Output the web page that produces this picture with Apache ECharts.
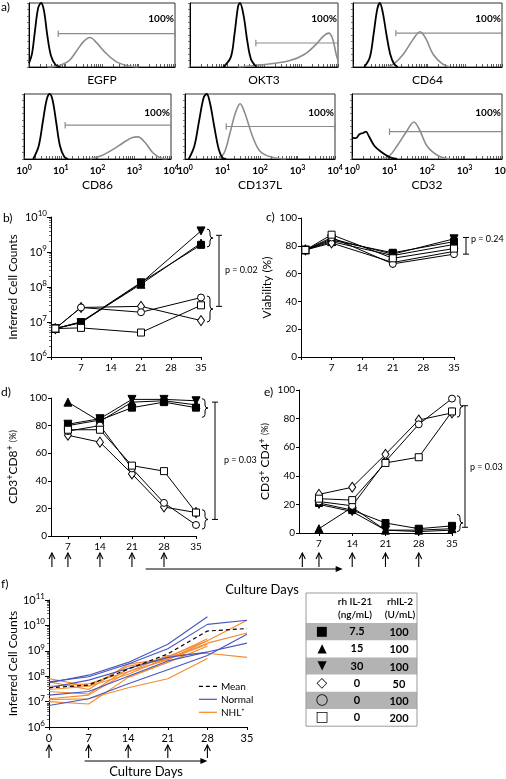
<!DOCTYPE html>
<html>
<head>
<meta charset="utf-8">
<script src="https://cdn.jsdelivr.net/npm/echarts@6.0.0/dist/echarts.min.js"></script>
<style>html,body{margin:0;padding:0;background:#fff;}#chart{width:506px;height:779px;}</style>
</head>
<body>
<div id="chart"></div>
<script>
// ================= DATA =================
// panel a: flow histograms, points are [log10 intensity, relative count]
const histMarkers = ['EGFP', 'OKT3', 'CD64', 'CD86', 'CD137L', 'CD32'];
const histGateLabel = ['100%', '100%', '100%', '100%', '100%', '100%'];
const histTickLabels = ['0', '1', '2', '3', '4'];
const egfpControl = [[0,0.06],[0.08,0.2],[0.16,0.55],[0.25,0.92],[0.33,1.0],[0.41,0.88],[0.5,0.5],[0.6,0.18],[0.72,0.04],[0.85,0]];
const egfpStained = [[0.5,0],[0.8,0.02],[1.1,0.1],[1.3,0.25],[1.5,0.4],[1.67,0.46],[1.85,0.38],[2.1,0.22],[2.4,0.08],[2.7,0.02],[3.0,0]];
const okt3Control = [[0.9,0],[1.1,0.15],[1.2,0.5],[1.3,0.95],[1.35,1.0],[1.45,0.8],[1.55,0.4],[1.65,0.12],[1.8,0]];
const okt3Stained = [[1.3,0],[1.7,0.02],[2.2,0.05],[2.7,0.1],[3.1,0.2],[3.4,0.35],[3.6,0.48],[3.75,0.53],[3.85,0.45],[3.95,0.2],[4.0,0.1]];
const cd64Control = [[0.3,0],[0.45,0.15],[0.55,0.5],[0.65,0.9],[0.72,1.0],[0.8,0.85],[0.9,0.5],[1.0,0.2],[1.1,0.05],[1.2,0]];
const cd64Stained = [[0.9,0],[1.1,0.05],[1.35,0.2],[1.6,0.42],[1.8,0.55],[1.95,0.45],[2.15,0.2],[2.4,0.05],[2.6,0]];
const cd86Control = [[0.25,0],[0.4,0.2],[0.52,0.6],[0.62,0.92],[0.7,1.0],[0.78,0.9],[0.88,0.55],[0.98,0.2],[1.1,0.03],[1.2,0]];
const cd86Stained = [[1.8,0],[2.1,0.05],[2.4,0.14],[2.7,0.25],[2.95,0.33],[3.1,0.34],[3.3,0.25],[3.5,0.1],[3.7,0.02],[3.9,0]];
const cd137lControl = [[0.1,0],[0.25,0.2],[0.38,0.6],[0.5,0.95],[0.58,1.0],[0.67,0.85],[0.78,0.5],[0.9,0.15],[1.0,0.02],[1.1,0]];
const cd137lStained = [[0.9,0],[1.05,0.1],[1.2,0.4],[1.35,0.72],[1.47,0.85],[1.6,0.7],[1.8,0.35],[2.0,0.12],[2.3,0.03],[2.7,0]];
const cd32Control = [[0,0.33],[0.1,0.32],[0.2,0.38],[0.3,0.4],[0.37,0.42],[0.45,0.35],[0.6,0.2],[0.8,0.1],[1.0,0.03],[1.2,0]];
const cd32Stained = [[0.8,0],[1.0,0.05],[1.2,0.2],[1.45,0.42],[1.65,0.57],[1.8,0.45],[2.0,0.2],[2.3,0.05],[2.6,0]];
const histGates = [[0.8,0.52],[1.78,0.375],[1.15,0.53],[1.12,0.52],[1.1,0.5],[1.0,0.42]];

// conditions (rhIL-21 ng/mL, rhIL-2 U/mL)
const tableSymbols = ['■', '▲', '▼', '◇', '○', '□'];
const tableIL21 = ['7.5', '15', '30', '0', '0', '0'];
const tableIL2 = ['100', '100', '100', '50', '100', '200'];

// panel b: inferred cell counts
const daysB = [1, 7, 21, 35];
const bCounts = [
  [6.5e6, 1.0e7, 1.35e8, 1.6e9],
  [6.5e6, 1.0e7, 1.2e8, 1.8e9],
  [6.5e6, 9.5e6, 1.3e8, 4.0e9],
  [6.5e6, 2.6e7, 2.8e7, 1.1e7],
  [6.5e6, 2.6e7, 1.9e7, 5.0e7],
  [6.5e6, 6.8e6, 5.0e6, 3.0e7]
];
// panel c: viability (%)
const daysC = [1, 7, 21, 35];
const cViability = [
  [77, 84, 75, 83],
  [77, 83, 73, 81],
  [77, 85, 74, 85],
  [77, 82, 68, 76],
  [77, 86, 67, 74],
  [77, 88, 71, 78]
];
// panels d, e
const daysDE = [7, 14, 21, 28, 35];
const dCD8 = [
  [80, 84, 93, 97, 93],
  [97, 83, 97, 98, 95],
  [81, 85, 99, 99, 98],
  [73, 68, 45, 21, 17],
  [76, 80, 49, 24, 8],
  [77, 77, 51, 47, 17]
];
const eCD4 = [
  [21, 16, 7, 3, 5],
  [3, 18, 2, 2, 3],
  [20, 15, 2, 1, 2],
  [27, 32, 55, 79, 84],
  [22, 19, 50, 76, 94],
  [24, 23, 49, 53, 85]
];
const deTickDays = [7, 14, 21, 28, 35];
const stimDaysDE = [3.5, 7, 14, 21, 28];

// panel f
const daysF = [0, 7, 14, 21, 28, 35];
const stimDaysF = [0, 7, 14, 21, 28];
const fMean = [3.5e7, 4.5e7, 1.9e8, 7.5e8, 6.0e9, 7.5e9];
const fNormal = [
  [5.5e7, 1.1e8, 3.5e8, 1.8e9, 2.2e10, null],
  [6.0e7, 9.5e7, 3.0e8, 1.2e9, 1.1e10, 1.6e10],
  [3.5e7, 7.0e7, 2.0e8, 5.5e8, 9.0e8, 2.0e9],
  [1.8e7, 2.5e7, 1.0e8, 4.0e8, 9.0e8, null],
  [7.0e6, 1.3e7, 5.0e7, 1.8e8, 6.5e8, 4.5e9]
];
const fNHL = [
  [8.0e7, 4.0e7, 2.5e8, 4.5e8, 2.5e9, 1.6e10],
  [6.0e7, 3.0e7, 3.0e8, 5.0e8, 2.0e9, 5.0e9],
  [4.0e7, 5.0e7, 1.5e8, 6.5e8, 8.0e8, 5.5e8],
  [3.0e7, 4.0e7, 1.2e8, 5.5e8, 3.0e9, null],
  [2.5e7, 2.0e7, 2.0e8, 6.0e8, 2.5e9, null],
  [1.3e7, 1.8e7, 1.5e8, 4.5e8, 1.8e9, null],
  [1.0e7, 8.0e6, 9.0e7, 3.5e8, 1.5e9, null],
  [1.2e7, 1.3e7, 3.5e7, 8.0e7, 5.0e8, null]
];
const fLegend = ['Mean', 'Normal', 'NHL⁺'];

// ================= STYLE / LAYOUT =================
const FONT = 'Lato, "Open Sans", "Noto Sans", sans-serif';
const BLUE = '#4656c0', ORANGE = '#f58a2c', GREY = '#8c8c8c';
const MARK = [
  {symbol: 'rect', fill: '#000', size: 7, rot: 0},
  {symbol: 'triangle', fill: '#000', size: 8, rot: 0},
  {symbol: 'triangle', fill: '#000', size: 8, rot: 180},
  {symbol: 'diamond', fill: '#fff', size: [7, 10], rot: 0},
  {symbol: 'circle', fill: '#fff', size: 7, rot: 0},
  {symbol: 'rect', fill: '#fff', size: 7, rot: 0}
];
const histControls = [egfpControl, okt3Control, cd64Control, cd86Control, cd137lControl, cd32Control];
const histStained = [egfpStained, okt3Stained, cd64Stained, cd86Stained, cd137lStained, cd32Stained];

const histBoxes = [
  {left: 29, top: 3, width: 146, height: 64},
  {left: 190, top: 3, width: 148, height: 64},
  {left: 353, top: 3, width: 149, height: 64},
  {left: 24, top: 94, width: 147, height: 65},
  {left: 185, top: 94, width: 150, height: 65},
  {left: 352, top: 94, width: 150, height: 65}
];
const grids = histBoxes.map(g => Object.assign({show: true, borderColor: '#333', borderWidth: 1, backgroundColor: 'transparent'}, g));
grids.push({left: 51, top: 217, width: 150, height: 140});   // b  (6)
grids.push({left: 301, top: 218, width: 153, height: 139});  // c  (7)
grids.push({left: 51, top: 398, width: 145, height: 138});   // d  (8)
grids.push({left: 299, top: 390, width: 153, height: 143});  // e  (9)
grids.push({left: 49, top: 600, width: 198, height: 127});   // f  (10)
grids.forEach(g => { g.outerBoundsMode = 'none'; g.containLabel = false; });

const supRich = (fs) => ({
  b: {fontSize: fs, fontFamily: FONT, color: '#000'},
  s: {fontSize: Math.round(fs * 0.7), fontFamily: FONT, color: '#000', padding: [0, 0, Math.round(fs * 0.6), 0]}
});
const supRichBold = (fs) => ({
  b: {fontSize: fs, fontFamily: FONT, color: '#000', fontWeight: 'bold'},
  s: {fontSize: Math.round(fs * 0.7), fontFamily: FONT, color: '#000', fontWeight: 'bold', padding: [0, 0, Math.round(fs * 0.6), 0]}
});
const logFmt = v => '{b|10}{s|' + Math.round(Math.log10(v)) + '}';

const logTicks = [];
for (let d = 0; d < 4; d++) for (let k = 1; k <= 9; k++) logTicks.push(d + Math.log10(k));
logTicks.push(4);

const axisLineBlack = {show: true, lineStyle: {color: '#000', width: 1}};
const xAxes = [], yAxes = [];
for (let i = 0; i < 6; i++) {
  xAxes.push({
    gridIndex: i, type: 'value', min: 0, max: 4,
    axisLine: axisLineBlack,
    axisTick: {show: true, inside: true, length: 3, customValues: logTicks, lineStyle: {color: '#333', width: 0.8}},
    axisLabel: {show: i >= 3, customValues: histTickLabels.map(Number), margin: 5,
      formatter: v => '{b|10}{s|' + v + '}', rich: supRichBold(10)},
    splitLine: {show: false},
    name: histMarkers[i], nameLocation: 'middle', nameGap: i < 3 ? 7 : 20,
    nameTextStyle: {fontSize: 12, fontFamily: FONT, color: '#000', verticalAlign: 'top'}
  });
  yAxes.push({
    gridIndex: i, type: 'value', min: 0, max: 1, interval: 0.1,
    axisLine: axisLineBlack,
    axisTick: {show: true, length: 2, lineStyle: {color: '#555', width: 0.8}},
    axisLabel: {show: false}, splitLine: {show: false}
  });
}
const dayAxis = (gi, showZero, fs) => ({
  gridIndex: gi, type: 'value', min: 0, max: 35, interval: 7,
  axisLine: axisLineBlack,
  axisTick: {show: true, length: 3, lineStyle: {color: '#000'}},
  axisLabel: {fontSize: fs, fontFamily: FONT, color: '#000', margin: 6, formatter: v => (v === 0 && !showZero) ? '' : String(v)},
  splitLine: {show: false}
});
const pctAxis = (gi, nameObj, gap) => ({
  gridIndex: gi, type: 'value', min: 0, max: 100, interval: 20,
  axisLine: axisLineBlack,
  axisTick: {show: true, length: 3, lineStyle: {color: '#000'}},
  axisLabel: {fontSize: 10, fontFamily: FONT, color: '#000', margin: 4},
  splitLine: {show: false},
  name: nameObj.text, nameLocation: 'middle', nameGap: gap, nameRotate: 90,
  nameTextStyle: {fontFamily: FONT, color: '#000', fontSize: 12, rich: nameObj.rich}
});
const supName = {
  a: {fontSize: 12, fontFamily: FONT, color: '#000'},
  s: {fontSize: 9, fontFamily: FONT, color: '#000', padding: [0, 0, 6, 0]},
  p: {fontSize: 9, fontFamily: FONT, color: '#000'}
};
const logYAxis = (gi, min, max, gap) => ({
  gridIndex: gi, type: 'log', logBase: 10, min, max,
  axisLine: axisLineBlack,
  axisTick: {show: true, length: 4, lineStyle: {color: '#000'}},
  minorTick: {show: true, splitNumber: 9, length: 2, lineStyle: {color: '#000', width: 0.6}},
  axisLabel: {formatter: logFmt, rich: supRich(11), margin: 4},
  splitLine: {show: false}, minorSplitLine: {show: false},
  name: 'Inferred Cell Counts', nameLocation: 'middle', nameGap: gap, nameRotate: 90,
  nameTextStyle: {fontSize: 12, fontFamily: FONT, color: '#000'}
});

// b
xAxes.push(dayAxis(6, false, 10));
yAxes.push(logYAxis(6, 1e6, 1e10, 32));
// c
xAxes.push(dayAxis(7, false, 10));
yAxes.push(pctAxis(7, {text: 'Viability (%)', rich: supName}, 28));
// d
xAxes.push({gridIndex: 8, type: 'value', min: 3.3, max: 35, axisLine: axisLineBlack,
  axisTick: {show: true, length: 3, customValues: deTickDays, lineStyle: {color: '#000'}},
  axisLabel: {customValues: deTickDays, fontSize: 10, fontFamily: FONT, color: '#000', margin: 6},
  splitLine: {show: false}});
yAxes.push(pctAxis(8, {text: '{a|CD3}{s|+}{a|CD8}{s|+} {p|(%)}', rich: supName}, 30));
// e
xAxes.push({gridIndex: 9, type: 'value', min: 2.8, max: 35, axisLine: axisLineBlack,
  axisTick: {show: true, length: 3, customValues: deTickDays, lineStyle: {color: '#000'}},
  axisLabel: {customValues: deTickDays, fontSize: 10, fontFamily: FONT, color: '#000', margin: 6},
  splitLine: {show: false}});
yAxes.push(pctAxis(9, {text: '{a|CD3}{s|+} {a|CD4}{s|+} {p|(%)}', rich: supName}, 26));
// f
xAxes.push(dayAxis(10, true, 11));
yAxes.push(logYAxis(10, 1e6, 1e11, 30));

// ================= SERIES =================
const series = [];
for (let i = 0; i < 6; i++) {
  series.push({type: 'line', xAxisIndex: i, yAxisIndex: i, data: histStained[i], smooth: 0.35, symbol: 'none',
    lineStyle: {color: GREY, width: 1.6}, silent: true});
  series.push({type: 'line', xAxisIndex: i, yAxisIndex: i, data: histControls[i], smooth: 0.35, symbol: 'none',
    lineStyle: {color: '#000', width: 1.8}, silent: true});
  const g = histGates[i];
  series.push({type: 'line', xAxisIndex: i, yAxisIndex: i, symbol: 'none', silent: true,
    data: [[g[0], g[1] + 0.05], [g[0], g[1] - 0.05], [g[0], g[1]], [4, g[1]], [4, g[1] + 0.05], [4, g[1] - 0.05]],
    lineStyle: {color: GREY, width: 1.2}});
}
const markerSeries = (gi, days, rows) => rows.forEach((vals, k) => {
  const m = MARK[k];
  series.push({type: 'line', xAxisIndex: gi, yAxisIndex: gi, data: days.map((d, j) => [d, vals[j]]),
    symbol: m.symbol, symbolSize: m.size, symbolRotate: m.rot, showSymbol: true, z: 3 + (k >= 3 ? 1 : 0),
    itemStyle: {color: m.fill, borderColor: '#000', borderWidth: 1},
    lineStyle: {color: '#000', width: 1}, silent: true});
});
markerSeries(6, daysB, bCounts);
markerSeries(7, daysC, cViability);
markerSeries(8, daysDE, dCD8);
markerSeries(9, daysDE, eCD4);

const fLine = (vals, name, color, type, w, z) => ({
  type: 'line', name, xAxisIndex: 10, yAxisIndex: 10, symbol: 'none', z,
  data: daysF.map((d, j) => [d, vals[j]]).filter(p => p[1] != null),
  lineStyle: {color, width: w, type}, itemStyle: {color}, silent: true
});
fNHL.forEach(v => series.push(fLine(v, fLegend[2], ORANGE, 'solid', 1.1, 2)));
fNormal.forEach(v => series.push(fLine(v, fLegend[1], BLUE, 'solid', 1.1, 3)));
series.push(fLine(fMean, fLegend[0], '#000', [4, 3], 1.2, 5));

const chart = echarts.init(document.getElementById('chart'), null, {renderer: 'canvas'});
chart.setOption({
  animation: false,
  backgroundColor: '#fff',
  textStyle: {fontFamily: FONT},
  grid: grids, xAxis: xAxes, yAxis: yAxes, series
});

// ================= ANNOTATIONS =================
const G = [];
const T = (x, y, text, o = {}) => {
  const al = o.align || 'left';
  G.push({type: 'text', x, y, silent: true, z: 10, style: {
    text, fill: '#000', fontSize: o.fontSize || 12, fontFamily: o.fontFamily || FONT, fontWeight: o.fontWeight || 'normal',
    align: al, textAlign: al, verticalAlign: 'middle', textVerticalAlign: 'middle'}});
};
const L = (x1, y1, x2, y2, w = 1, c = '#000', dash) => G.push({type: 'line', silent: true, z: 10,
  shape: {x1, y1, x2, y2}, style: {stroke: c, lineWidth: w, lineDash: dash || null}});
const Q = (x1, y1, cx, cy, x2, y2) => G.push({type: 'bezierCurve', silent: true, z: 10,
  shape: {x1, y1, x2, y2, cpx1: cx, cpy1: cy}, style: {stroke: '#000', fill: null, lineWidth: 1}});
const PX = (gi, v) => chart.convertToPixel({xAxisIndex: gi}, v);
const PY = (gi, v) => chart.convertToPixel({yAxisIndex: gi}, v);
const brace = (x, y1, y2, w = 6) => {
  const m = (y1 + y2) / 2, h = w / 2;
  Q(x, y1, x + h, y1, x + h, y1 + 3);
  L(x + h, y1 + 3, x + h, m - 3);
  Q(x + h, m - 3, x + h, m, x + w, m);
  Q(x + w, m, x + h, m, x + h, m + 3);
  L(x + h, m + 3, x + h, y2 - 3);
  Q(x + h, y2 - 3, x + h, y2, x, y2);
};
const bracket = (x, y1, y2) => { L(x, y1, x, y2); L(x - 3, y1, x + 3, y1); L(x - 3, y2, x + 3, y2); };
const arrowUp = (x, tip, base) => {
  L(x, base, x, tip, 1.1);
  G.push({type: 'polyline', silent: true, z: 10, shape: {points: [[x - 3, tip + 6], [x, tip], [x + 3, tip + 6]]},
    style: {stroke: '#000', fill: null, lineWidth: 1.1}});
};
const arrowRight = (x1, x2, y) => {
  L(x1, y, x2 - 4, y, 1);
  G.push({type: 'polygon', silent: true, z: 10, shape: {points: [[x2, y], [x2 - 7, y - 3], [x2 - 7, y + 3]]},
    style: {fill: '#000'}});
};

// panel labels
T(1, 7, 'a)'); T(3, 218, 'b)'); T(266, 217, 'c)'); T(1, 392, 'd)'); T(264, 392, 'e)'); T(1, 584, 'f)');

// gate percentages
for (let i = 0; i < 6; i++) {
  T(PX(i, 3.97), PY(i, i < 3 ? 0.75 : 0.71), histGateLabel[i], {align: 'right', fontWeight: 'bold', fontSize: 10});
}

// b
let xr = PX(6, 35);
brace(xr + 6, PY(6, 4.5e9), PY(6, 1.4e9));
brace(xr + 6, PY(6, 5.5e7), PY(6, 1.0e7));
bracket(xr + 18, PY(6, 3e9), PY(6, 2.8e7));
T(xr + 24, PY(6, 3e8), 'p = 0.02', {fontSize: 9});
// c
xr = PX(7, 35);
bracket(xr + 12, PY(7, 86), PY(7, 74));
T(xr + 17, PY(7, 85), 'p = 0.24', {fontSize: 9});
// d
xr = PX(8, 35);
brace(xr + 6, PY(8, 99.5), PY(8, 86));
brace(xr + 6, PY(8, 19), PY(8, 5));
bracket(xr + 19, PY(8, 97), PY(8, 12));
T(xr + 28, PY(8, 55), 'p = 0.03', {fontSize: 9});
// e
xr = PX(9, 35);
brace(xr + 5, PY(9, 96), PY(9, 81));
brace(xr + 5, PY(9, 13), PY(9, 1));
bracket(xr + 13, PY(9, 89), PY(9, 4));
T(xr + 18, PY(9, 46), 'p = 0.03', {fontSize: 9});

// stimulation arrows d / e
const deTip = PY(8, 0) + 17, deBase = PY(8, 0) + 31;
stimDaysDE.forEach(d => arrowUp(PX(8, d), deTip, deBase));
stimDaysDE.forEach(d => arrowUp(PX(9, d), deTip, deBase));
const cx1 = PX(8, 24), cx2 = PX(9, 12);
arrowRight(cx1, cx2, deBase + 2);
T(262, deBase + 23, 'Culture Days', {align: 'center', fontSize: 13});

// stimulation arrows f
const fTip = PY(10, 1e6) + 18, fBase = PY(10, 1e6) + 31;
stimDaysF.forEach(d => arrowUp(PX(10, d), fTip, fBase));
const fx1 = PX(10, 6.3), fx2 = PX(10, 28);
arrowRight(fx1, fx2, fBase + 3);
T((fx1 + fx2) / 2, fBase + 14, 'Culture Days', {align: 'center', fontSize: 13});

// legend of panel f
const legX = PX(10, 26.5), legY = PY(10, 4e7);
const legStyle = [[ '#000', [4, 3] ], [BLUE, null], [ORANGE, null]];
fLegend.forEach((name, i) => {
  const y = legY + i * 13;
  L(legX, y, legX + 18, y, 1.2, legStyle[i][0], legStyle[i][1]);
  T(legX + 22, y, name, {fontSize: 10});
});

// condition table
const tx = 306, ty = 593, tw = 111, hh = 30, rh = 17.2;
for (let r = 0; r < tableSymbols.length; r++) {
  if (r % 2 === 0) G.push({type: 'rect', silent: true, z: 9, shape: {x: tx, y: ty + hh + r * rh, width: tw, height: rh}, style: {fill: '#b3b3b3'}});
}
G.push({type: 'rect', silent: true, z: 10, shape: {x: tx, y: ty, width: tw, height: hh + tableSymbols.length * rh},
  style: {fill: null, stroke: '#9a9a9a', lineWidth: 1}});
T(355, ty + 9, 'rh IL-21', {align: 'center', fontSize: 10, fontWeight: 600});
T(355, ty + 22, '(ng/mL)', {align: 'center', fontSize: 10, fontWeight: 600});
T(400, ty + 9, 'rhIL-2', {align: 'center', fontSize: 10, fontWeight: 600});
T(400, ty + 22, '(U/mL)', {align: 'center', fontSize: 10, fontWeight: 600});
const symSize = [13, 12, 12, 14, 15, 14];
tableSymbols.forEach((s, r) => {
  const ym = ty + hh + r * rh + rh / 2;
  T(322, ym, s, {align: 'center', fontSize: symSize[r], fontFamily: '"DejaVu Sans", sans-serif'});
  T(357, ym, tableIL21[r], {align: 'center', fontSize: 11, fontWeight: 'bold'});
  T(399, ym + 1, tableIL2[r], {align: 'center', fontSize: 11, fontWeight: 'bold'});
});

chart.setOption({graphic: {elements: G}});
</script>
</body>
</html>
